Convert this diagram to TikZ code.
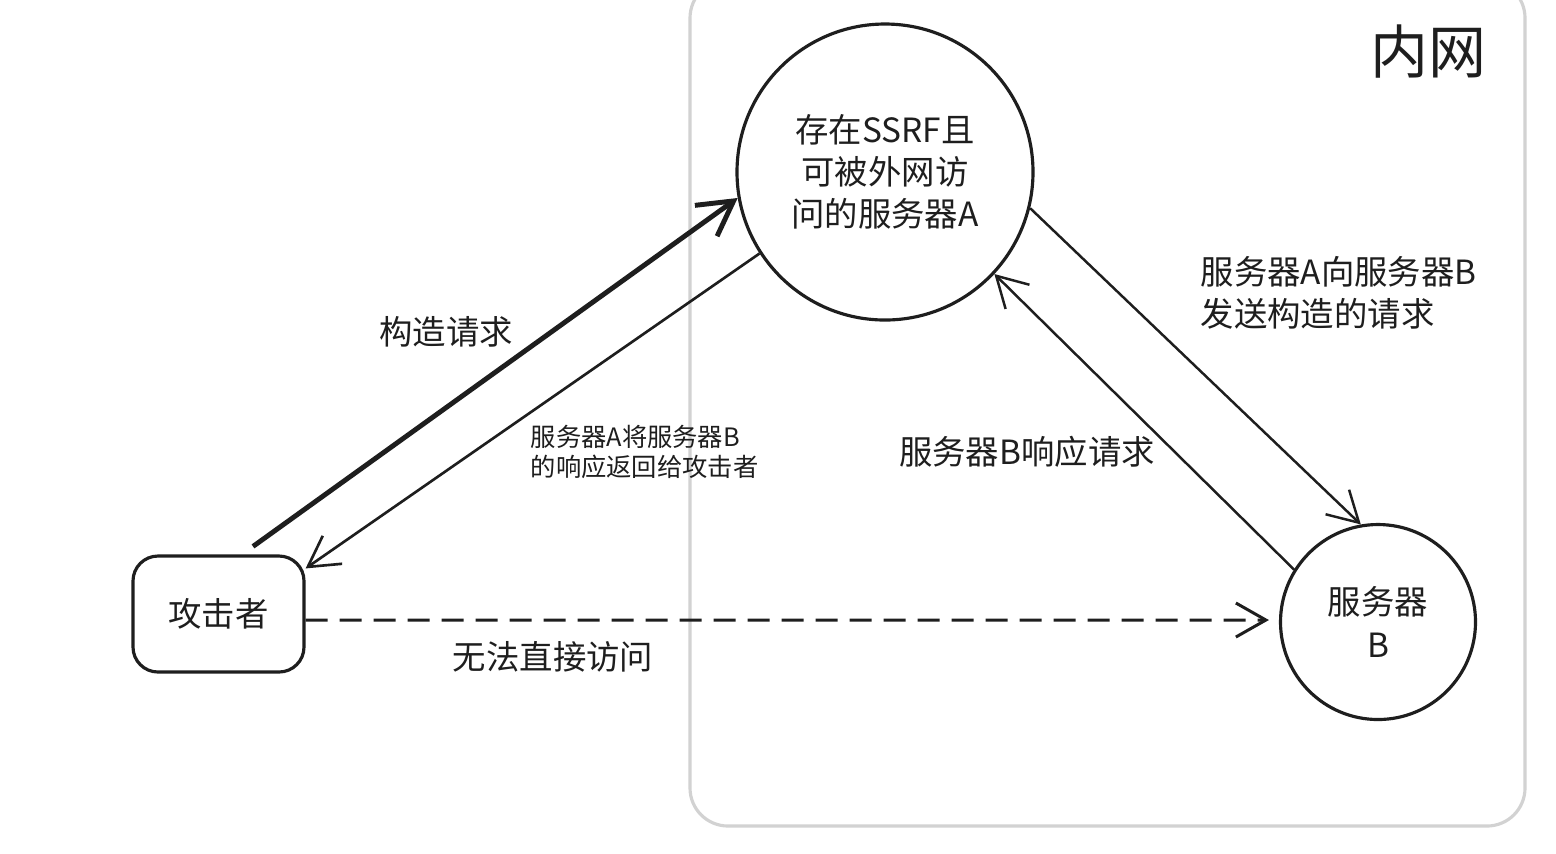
\documentclass[tikz,border=0pt]{standalone}
\usepackage{fontspec}
\setmainfont{Noto Sans CJK SC}
\usetikzlibrary{arrows.meta,calc}
\definecolor{ink}{HTML}{1E1E1E}
\definecolor{zone}{HTML}{D2D2D2}
\begin{document}
\begin{tikzpicture}[
  shapeline/.style={draw=ink, line width=0.9pt},
  txt/.style={text=ink, font=\fontsize{9.5pt}{12pt}\selectfont, align=center, inner sep=0pt},
  smalltxt/.style={text=ink, font=\fontsize{7.2pt}{8.6pt}\selectfont, align=left, inner sep=0pt},
  tip/.style={-{Straight Barb[length=0.3cm,width=0.34cm]}},
  conn/.style={draw=ink, line width=0.7pt, tip},
]
\useasboundingbox (0,0) rectangle (15.56,-8.53);
\clip (0,0) rectangle (15.56,-8.53);
\fill[white] (0,0) rectangle (15.56,-8.53);

% inner network zone
\draw[zone, line width=0.9pt, rounded corners=0.38cm] (6.90,0.20) rectangle (15.25,-8.26);
\node[text=ink, font=\fontsize{16.5pt}{18pt}\selectfont, inner sep=0pt] (zonelabel) at (14.28,-0.52) {内网};

% nodes
\node[circle, shapeline, minimum size=2.96cm, inner sep=0pt, txt] (A) at (8.85,-1.72)
  {存在SSRF且\\可被外网访\\问的服务器A};
\node[circle, shapeline, minimum size=1.95cm, inner sep=0pt, txt] (B) at (13.78,-6.22)
  {服务器\\B};
\node[rectangle, rounded corners=0.25cm, shapeline, minimum width=1.71cm, minimum height=1.16cm, txt] (att) at (2.185,-6.14)
  {攻击者};

% connectors
\draw[draw=ink, line width=1.4pt, -{Straight Barb[length=0.34cm,width=0.38cm]}] ([shift={(0.345,0.08)}]att.north) -- (A.190);
\draw[conn, line width=0.75pt] (A.213) -- ([yshift=-0.14cm]att.north east);
\draw[conn] (A.346) -- (B.100);
\draw[conn] (B.148) -- (A.317);
\draw[draw=ink, line width=0.85pt, dash pattern=on 0.22cm off 0.12cm, tip] ([yshift=-0.06cm]att.east) -- ([shift={(-0.1cm,0.02cm)}]B.west);

% labels
\node[txt] (l1) at (4.46,-3.32) {构造请求};
\node[smalltxt, anchor=west] (l2) at (5.30,-4.52) {服务器A将服务器B\\的响应返回给攻击者};
\node[txt, align=left, anchor=west] (l3) at (12.00,-2.93) {服务器A向服务器B\\发送构造的请求};
\node[txt] (l4) at (10.27,-4.52) {服务器B响应请求};
\node[txt] (l5) at (5.53,-6.57) {无法直接访问};
\end{tikzpicture}
\end{document}
